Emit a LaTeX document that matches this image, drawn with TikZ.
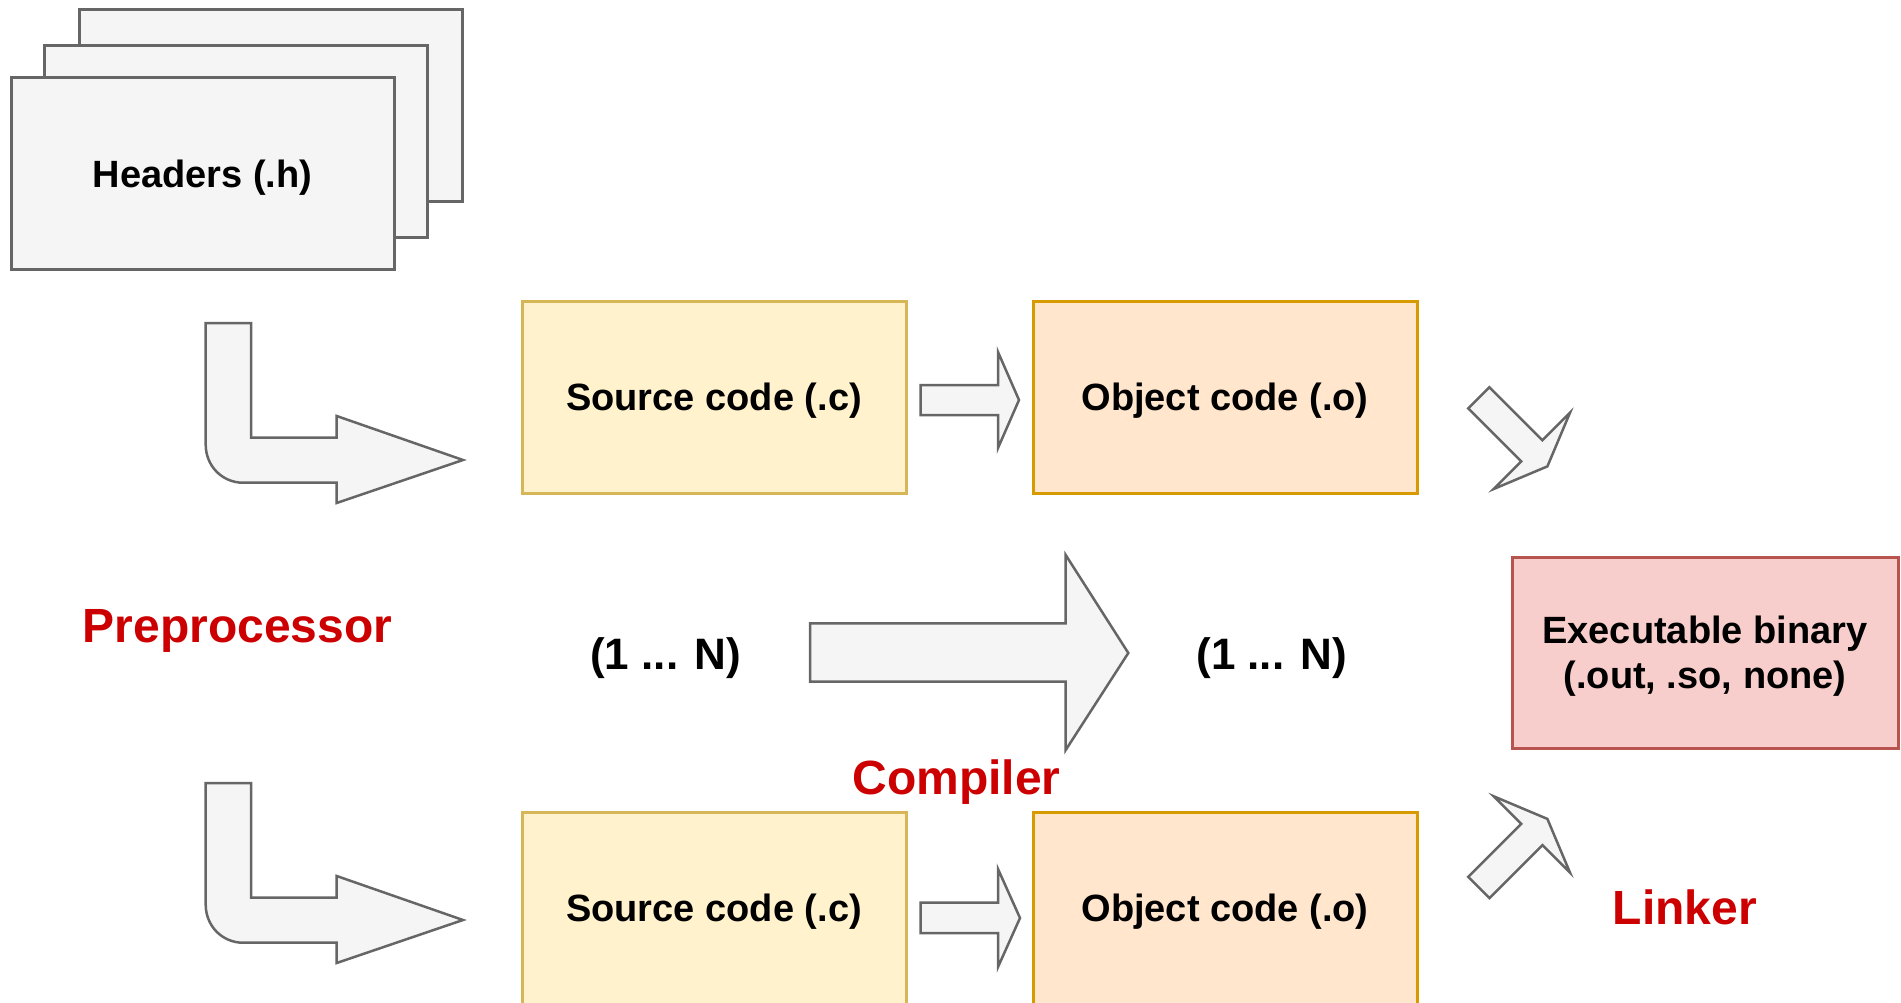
\documentclass[tikz,border=0pt]{standalone}
\usepackage{fontspec}
\setmainfont{Liberation Sans}
\begin{document}
\begin{tikzpicture}[x=1pt,y=-1pt,
  txt/.style={font=\fontsize{38}{45}\selectfont\bfseries, text=black},
  boxbase/.style={rectangle, draw, line width=3pt, inner sep=0pt, minimum width=384pt, minimum height=192pt, align=center, text depth=0pt, txt},
  hdrbox/.style={boxbase, fill=hdrfill, draw=hdrline, minimum width=383pt},
  srcbox/.style={boxbase, fill=srcfill, draw=srcline},
  objbox/.style={boxbase, fill=objfill, draw=objline},
  exebox/.style={boxbase, fill=exefill, draw=exeline, minimum width=386pt, minimum height=191pt},
  redlabel/.style={font=\fontsize{48}{56}\selectfont\bfseries, text=labred, inner sep=0pt},
  countlabel/.style={font=\fontsize{44}{52}\selectfont\bfseries, text=black, inner sep=0pt},
  blockarrow/.style={fill=hdrfill, draw=hdrline, line width=2.5pt, line join=miter}
]
\definecolor{hdrfill}{HTML}{F5F5F5}
\definecolor{hdrline}{HTML}{666666}
\definecolor{srcfill}{HTML}{FFF2CC}
\definecolor{srcline}{HTML}{D6B656}
\definecolor{objfill}{HTML}{FFE6CC}
\definecolor{objline}{HTML}{D79B00}
\definecolor{exefill}{HTML}{F8CECC}
\definecolor{exeline}{HTML}{B85450}
\definecolor{labred}{HTML}{CC0000}

\useasboundingbox (0,0) rectangle (1901,1003);

% headers stack
\node[hdrbox] (hdr3) at (270.5,106) {};
\node[hdrbox] (hdr2) at (235.5,141.5) {};
\node[hdrbox] (hdr1) at (202.5,173.5) {Headers (.h)};

% boxes
\node[srcbox] (src1) at (714,397) {Source code (.c)};
\node[objbox] (obj1) at (1225,397) {Object code (.o)};
\node[srcbox] (src2) at (714,908) {Source code (.c)};
\node[objbox] (obj2) at (1225,908) {Object code (.o)};
\node[exebox] (exe) at (1705,652.5) {Executable binary\\(.out, .so, none)};

% labels
\node[redlabel] (pre) at (237.6,631) {Preprocessor};
\node[redlabel] (comp) at (956.6,782) {Compiler};
\node[redlabel] (link) at (1685,907) {Linker};
\node[countlabel] (n1) at (665.6,658) {(1 ... N)};
\node[countlabel] (n2) at (1271.8,658) {(1 ... N)};

% bent arrows (preprocessor)
\foreach \dy in {0,460}{
  \draw[blockarrow] (205.7,323+\dy) -- (251,323+\dy) -- (251,437.7+\dy) -- (336.7,437.7+\dy)
    -- (336.7,416+\dy) -- (463,460+\dy) -- (336.7,503+\dy) -- (336.7,482.7+\dy) -- (243,482.7+\dy)
    .. controls (222,482.7+\dy) and (205.7,465.7+\dy) .. (205.7,444.7+\dy) -- cycle;
}

% small arrows source -> object
\draw[blockarrow] (920.7,385) -- (998,385) -- (998,352) -- (1019,400) -- (998,448) -- (998,415) -- (920.7,415) -- cycle;
\draw[blockarrow] (920.7,902.5) -- (998,902.5) -- (998,869) -- (1020,918) -- (998,967) -- (998,933) -- (920.7,933) -- cycle;

% big compiler arrow
\draw[blockarrow] (810,623.3) -- (1065.7,623.3) -- (1065.7,555) -- (1128.3,653) -- (1065.7,750) -- (1065.7,681.7) -- (810,681.7) -- cycle;

% diagonal linker arrows
\begin{scope}[shift={(1478.8,397.8)}, rotate=-45]
  \draw[blockarrow] (0,-15) -- (75,-15) -- (75,-54) -- (97,0) -- (75,54) -- (75,15) -- (0,15) -- cycle;
\end{scope}
\begin{scope}[shift={(1478.8,887.5)}, rotate=45]
  \draw[blockarrow] (0,-15) -- (75,-15) -- (75,-54) -- (97,0) -- (75,54) -- (75,15) -- (0,15) -- cycle;
\end{scope}
\end{tikzpicture}
\end{document}
